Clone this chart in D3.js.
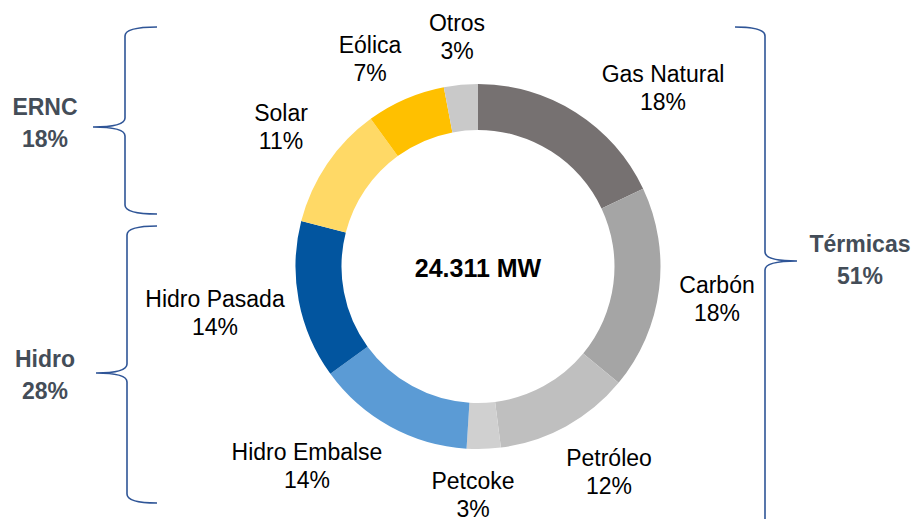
<!DOCTYPE html>
<html>
<head>
<meta charset="utf-8">
<script src="https://cdn.jsdelivr.net/npm/d3@7"></script>
<style>
  html, body { margin: 0; padding: 0; background: #fff; }
  svg { display: block; font-family: "Liberation Sans", Arial, sans-serif; }
</style>
</head>
<body>
<svg id="chart"></svg>
<script>
// data
const categories = ["Gas Natural", "Carbón", "Petróleo", "Petcoke", "Hidro Embalse", "Hidro Pasada", "Solar", "Eólica", "Otros"];
const shares = [18, 18, 12, 3, 14, 14, 11, 7, 3];
const sliceColors = ["#767171", "#a5a5a5", "#bfbfbf", "#d0d0d0", "#5b9bd5", "#02559f", "#ffd966", "#ffc000", "#c9c9c9"];
const totalLabel = "24.311 MW";

const groups = ["ERNC", "Hidro", "Térmicas"];
const groupShares = [18, 28, 51];

// layout (label anchors, brace geometry)
const labelPos = [[663, 82], [717, 293], [609, 466], [473, 489], [307, 460], [215, 307], [281, 121], [370, 53], [457, 31]];
const braces = [
  { xEnd: 157, xV: 125, xTip: 93, y0: 27, yTip: 127, y1: 214 },
  { xEnd: 157, xV: 127, xTip: 96, y0: 226, yTip: 373, y1: 503 },
  { xEnd: 735, xV: 765, xTip: 797, y0: 27, yTip: 261, y1: 560 }
];
const groupPos = [[45, 115], [45, 367], [860, 252]];

const width = 916, height = 519;
const cx = 478, cy = 266.5, outerR = 182.5, innerR = 136.5;

const svg = d3.select("#chart").attr("width", width).attr("height", height);

const pie = d3.pie().sort(null).value(d => d)(shares);
const arc = d3.arc().innerRadius(innerR).outerRadius(outerR);
const color = d3.scaleOrdinal().domain(categories).range(sliceColors);

svg.append("g")
    .attr("transform", `translate(${cx},${cy})`)
  .selectAll("path")
  .data(pie)
  .join("path")
    .attr("d", arc)
    .attr("fill", (d, i) => color(categories[i]));

// slice labels
const lbl = svg.append("g")
    .attr("font-size", 23)
    .attr("fill", "#000")
    .attr("text-anchor", "middle");

categories.forEach((c, i) => {
  const t = lbl.append("text")
      .attr("x", labelPos[i][0])
      .attr("y", labelPos[i][1]);
  t.append("tspan").attr("x", labelPos[i][0]).text(c);
  t.append("tspan").attr("x", labelPos[i][0]).attr("dy", 28).text(shares[i] + "%");
});

// total in the middle
svg.append("text")
    .attr("x", cx)
    .attr("y", 277)
    .attr("text-anchor", "middle")
    .attr("font-size", 25)
    .attr("font-weight", "bold")
    .text(totalLabel);

// braces
const bracePath = b => {
  const r = 9;
  const p = d3.path();
  p.moveTo(b.xEnd, b.y0);
  p.quadraticCurveTo(b.xV, b.y0, b.xV, b.y0 + r);
  p.lineTo(b.xV, b.yTip - r);
  p.quadraticCurveTo(b.xV, b.yTip, b.xTip, b.yTip);
  p.quadraticCurveTo(b.xV, b.yTip, b.xV, b.yTip + r);
  p.lineTo(b.xV, b.y1 - r);
  p.quadraticCurveTo(b.xV, b.y1, b.xEnd, b.y1);
  return p.toString();
};

svg.append("g")
  .selectAll("path")
  .data(braces)
  .join("path")
    .attr("d", bracePath)
    .attr("fill", "none")
    .attr("stroke", "#2f5597")
    .attr("stroke-width", 1.6);

// group labels
const grp = svg.append("g")
    .attr("font-size", 23)
    .attr("font-weight", "bold")
    .attr("fill", "#444d58")
    .attr("text-anchor", "middle");

groups.forEach((g, i) => {
  const t = grp.append("text").attr("y", groupPos[i][1]);
  t.append("tspan").attr("x", groupPos[i][0]).text(g);
  t.append("tspan").attr("x", groupPos[i][0]).attr("dy", 32).text(groupShares[i] + "%");
});
</script>
</body>
</html>
